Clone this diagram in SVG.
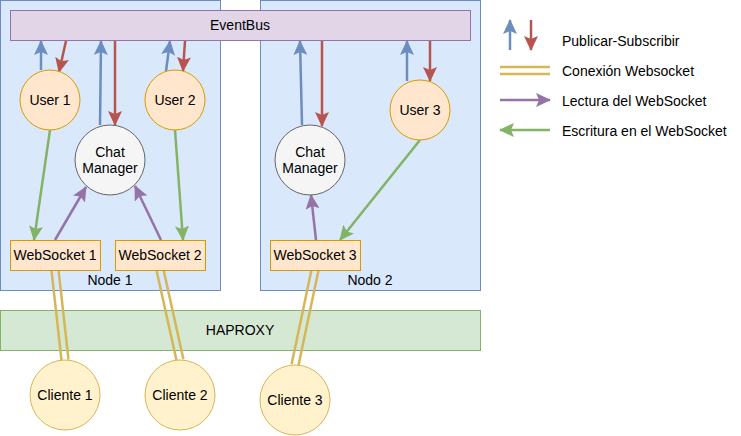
<svg xmlns="http://www.w3.org/2000/svg" width="741" height="436" viewBox="0 0 741 436">
<style>
text{font-family:"Liberation Sans",Arial,sans-serif;font-size:14px;fill:#000;text-anchor:middle}
.lg{text-anchor:start}
.cont{fill:#dae8fc;stroke:#6c8ebf;stroke-width:1}
.user{fill:#ffe6cc;stroke:#d79b00;stroke-width:1}
.cm{fill:#f5f5f5;stroke:#666666;stroke-width:1}
.cli{fill:#fff2cc;stroke:#d6b656;stroke-width:1}
.bl{stroke:#6c8ebf;stroke-width:2.5;fill:none;marker-end:url(#mb)}
.rd{stroke:#b85450;stroke-width:2.5;fill:none;marker-end:url(#mr)}
.gr{stroke:#82b366;stroke-width:2.5;fill:none;marker-end:url(#mg)}
.pu{stroke:#9673a6;stroke-width:2.5;fill:none;marker-end:url(#mp)}
.ws{stroke:#d6b656;stroke-width:2.5;fill:none}
</style>
<defs>
<marker id="mb" viewBox="0 0 15 14" markerWidth="15" markerHeight="14" refX="14" refY="7" markerUnits="userSpaceOnUse" orient="auto"><path d="M0,0 L15,7 L0,14 L3,7 z" fill="#6c8ebf"/></marker>
<marker id="mr" viewBox="0 0 15 14" markerWidth="15" markerHeight="14" refX="14" refY="7" markerUnits="userSpaceOnUse" orient="auto"><path d="M0,0 L15,7 L0,14 L3,7 z" fill="#b85450"/></marker>
<marker id="mg" viewBox="0 0 15 14" markerWidth="15" markerHeight="14" refX="14" refY="7" markerUnits="userSpaceOnUse" orient="auto"><path d="M0,0 L15,7 L0,14 L3,7 z" fill="#82b366"/></marker>
<marker id="mp" viewBox="0 0 15 14" markerWidth="15" markerHeight="14" refX="14" refY="7" markerUnits="userSpaceOnUse" orient="auto"><path d="M0,0 L15,7 L0,14 L3,7 z" fill="#9673a6"/></marker>
</defs>

<g id="node1-container"><rect class="cont" x="0.5" y="0.5" width="220" height="290"/><text x="110" y="285">Node 1</text></g>
<g id="node2-container"><rect class="cont" x="260.5" y="0.5" width="220" height="290"/><text x="370" y="285">Nodo 2</text></g>
<g id="haproxy"><rect x="0.5" y="310.5" width="480" height="40" fill="#d5e8d4" stroke="#82b366"/><text x="240" y="335">HAPROXY</text></g>
<g id="eventbus"><rect x="10.5" y="10.5" width="460" height="30" fill="#e1d5e7" stroke="#9673a6"/><text x="240" y="30">EventBus</text></g>

<g id="connectors">
<line class="bl" x1="41" y1="70" x2="41" y2="41"/>
<line class="rd" x1="66" y1="41" x2="59" y2="72"/>
<line class="bl" x1="100" y1="125" x2="101" y2="41"/>
<line class="rd" x1="115" y1="41" x2="115" y2="125"/>
<line class="bl" x1="166" y1="71" x2="170" y2="41"/>
<line class="rd" x1="185" y1="41" x2="183" y2="71"/>
<line class="bl" x1="302" y1="125" x2="300" y2="41"/>
<line class="rd" x1="322" y1="41" x2="322" y2="126"/>
<line class="bl" x1="407" y1="81" x2="407" y2="41"/>
<line class="rd" x1="430" y1="41" x2="430" y2="81"/>
<line class="gr" x1="50" y1="130" x2="34" y2="240"/>
<line class="gr" x1="175" y1="130" x2="183" y2="240"/>
<line class="gr" x1="420" y1="140" x2="340" y2="240"/>
<line class="pu" x1="55" y1="240" x2="86" y2="187"/>
<line class="pu" x1="161" y1="240" x2="135" y2="186"/>
<line class="pu" x1="316" y1="240" x2="311" y2="195"/>
<line class="ws" x1="51.5" y1="270.4" x2="61.5" y2="360.4"/>
<line class="ws" x1="58.5" y1="269.6" x2="68.5" y2="359.6"/>
<line class="ws" x1="156.6" y1="270.8" x2="176.6" y2="360.8"/>
<line class="ws" x1="163.4" y1="269.2" x2="183.4" y2="359.2"/>
<line class="ws" x1="311.6" y1="269.3" x2="291.6" y2="364.3"/>
<line class="ws" x1="318.4" y1="270.7" x2="298.4" y2="365.7"/>
</g>

<g id="user1"><circle class="user" cx="50" cy="100" r="30"/><text x="50" y="105">User 1</text></g>
<g id="user2"><circle class="user" cx="175" cy="100" r="30"/><text x="175" y="105">User 2</text></g>
<g id="user3"><circle class="user" cx="420" cy="110" r="30"/><text x="420" y="115">User 3</text></g>
<g id="chatmanager1"><circle class="cm" cx="110" cy="160" r="35"/><text x="110" y="157">Chat</text><text x="110" y="173">Manager</text></g>
<g id="chatmanager2"><circle class="cm" cx="310" cy="160" r="35"/><text x="310" y="157">Chat</text><text x="310" y="173">Manager</text></g>
<g id="websocket1"><rect class="user" x="10.5" y="240.5" width="90" height="30"/><text x="55" y="260">WebSocket 1</text></g>
<g id="websocket2"><rect class="user" x="115.5" y="240.5" width="90" height="30"/><text x="160" y="260">WebSocket 2</text></g>
<g id="websocket3"><rect class="user" x="270.5" y="240.5" width="90" height="30"/><text x="315" y="260">WebSocket 3</text></g>
<g id="cliente1"><circle class="cli" cx="65" cy="395" r="35"/><text x="65" y="400">Cliente 1</text></g>
<g id="cliente2"><circle class="cli" cx="180" cy="395" r="35"/><text x="180" y="400">Cliente 2</text></g>
<g id="cliente3"><circle class="cli" cx="295" cy="400" r="35"/><text x="295" y="405">Cliente 3</text></g>

<g id="legend">
<line class="bl" x1="510" y1="50" x2="510" y2="20"/>
<line class="rd" x1="531" y1="20" x2="531" y2="50"/>
<text class="lg" x="562" y="46">Publicar-Subscribir</text>
<line class="ws" x1="500" y1="67" x2="550" y2="67"/>
<line class="ws" x1="500" y1="74" x2="550" y2="74"/>
<text class="lg" x="562" y="76">Conexión Websocket</text>
<line class="pu" x1="500" y1="100" x2="550" y2="100"/>
<text class="lg" x="562" y="106">Lectura del WebSocket</text>
<line class="gr" x1="550" y1="130" x2="500" y2="130"/>
<text class="lg" x="562" y="136">Escritura en el WebSocket</text>
</g>
</svg>
